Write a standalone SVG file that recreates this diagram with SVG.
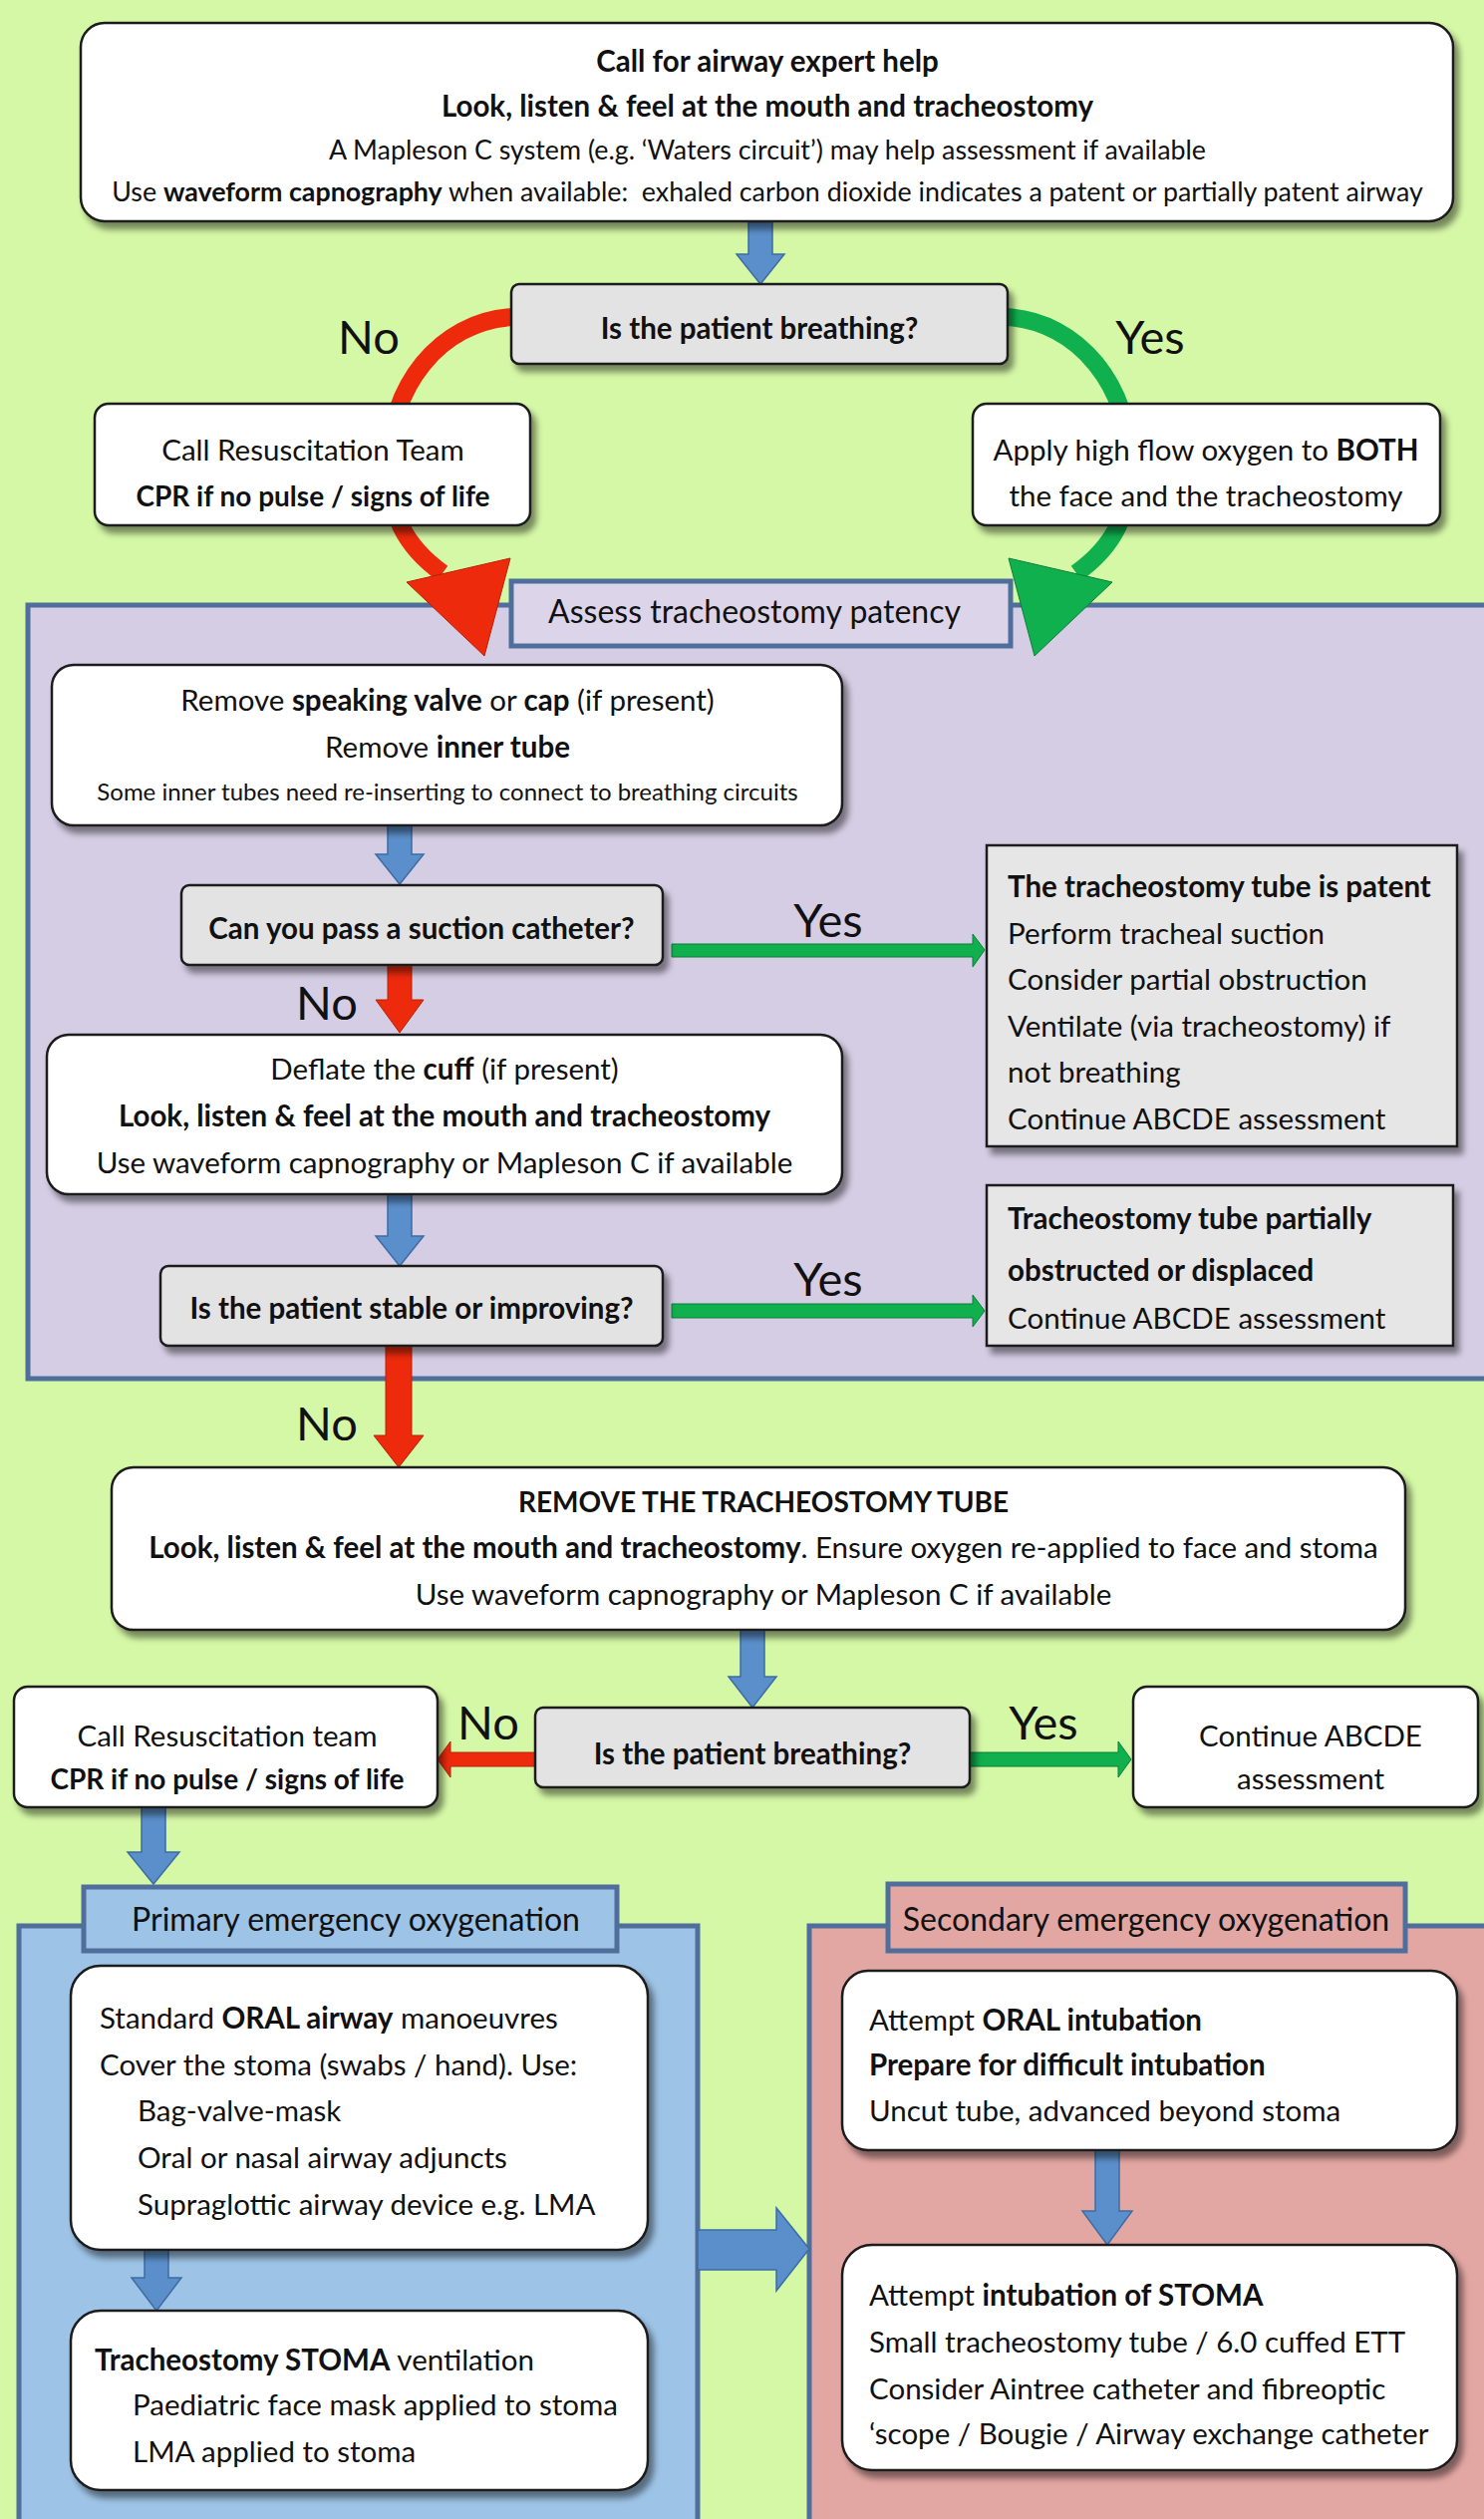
<svg xmlns="http://www.w3.org/2000/svg" width="1489" height="2527" viewBox="0 0 1489 2527">
<defs>
<filter id="sh" x="-5%" y="-10%" width="115%" height="135%">
<feDropShadow dx="5" dy="7" stdDeviation="3" flood-color="#000" flood-opacity="0.45"/>
</filter>
<style>
.t{font-family:Lato,"Liberation Sans",sans-serif;font-size:29.5px;fill:#111}
.c{text-anchor:middle}
.b{font-weight:bold}
.s{font-size:24px}
.m{font-size:26.8px}
.n{font-size:28px}
.lbl{font-size:47px}
.ttl{font-size:32px}
.box{fill:#fff;stroke:#1a1a1a;stroke-width:2.5;filter:url(#sh)}
.dec{fill:#e3e3e3;stroke:#1a1a1a;stroke-width:2.5;filter:url(#sh)}
.gbox{fill:#e6e6e6;stroke:#1a1a1a;stroke-width:2.5;filter:url(#sh)}
.cont{stroke:#4f6e9c;stroke-width:5}
.blue{fill:#5b8fcb;stroke:#3e6ca3;stroke-width:1.5}
.red{fill:#ee2a0c;stroke:#b82008;stroke-width:1}
.green{fill:#10b04e;stroke:#0b7e38;stroke-width:1}
</style>
</defs>
<rect x="0" y="0" width="1489" height="2527" fill="#d5f8a6"/>

<g id="containers">
<rect id="assess-container" class="cont" x="28" y="607" width="1470" height="776" fill="#d5cde4"/>
<rect id="primary-container" class="cont" x="19" y="1932" width="681" height="620" fill="#9dc3e6"/>
<rect id="secondary-container" class="cont" x="812" y="1932" width="690" height="620" fill="#e3a7a3"/>
</g>

<g id="connectors">
<g id="curve-no">
<path d="M 515 318 C 440 322, 390 390, 390 466 C 390 515, 406 548, 444 575" fill="none" stroke="#ee2a0c" stroke-width="18"/>
<polygon class="red" points="408,584 512,560 486,658"/>
</g>
<g id="curve-yes" transform="translate(1524,0) scale(-1,1)">
<path d="M 515 318 C 440 322, 390 390, 390 466 C 390 515, 406 548, 444 575" fill="none" stroke="#10b04e" stroke-width="18"/>
<polygon class="green" points="408,584 512,560 486,658"/>
</g>
<polygon class="blue" points="751,223 775,223 775,255 787,255 763,285 739,255 751,255"/>
<polygon class="blue" points="389,828 413,828 413,857 425,857 401,887 377,857 389,857"/>
<polygon class="green" points="674,947 976,947 976,937 988,953 976,970 976,960 674,960"/>
<polygon class="red" points="389,968 413,968 413,1003 425,1003 401,1036 377,1003 389,1003"/>
<polygon class="blue" points="389,1198 413,1198 413,1240 425,1240 401,1270 377,1240 389,1240"/>
<polygon class="green" points="674,1308 976,1308 976,1299 988,1315 976,1331 976,1322 674,1322"/>
<polygon class="red" points="387,1350 413,1350 413,1440 425,1440 400,1472 375,1440 387,1440"/>
<polygon class="blue" points="743,1635 767,1635 767,1682 779,1682 755,1713 731,1682 743,1682"/>
<polygon class="red" points="537,1758 452,1758 452,1747 439,1765 452,1783 452,1772 537,1772"/>
<polygon class="green" points="973,1758 1122,1758 1122,1747 1135,1765 1122,1783 1122,1772 973,1772"/>
<polygon class="blue" points="142,1813 166,1813 166,1858 180,1858 154,1890 128,1858 142,1858"/>
<polygon class="blue" points="145,2257 169,2257 169,2285 182,2285 157,2318 132,2285 145,2285"/>
<polygon class="blue" points="1099,2157 1123,2157 1123,2218 1136,2218 1111,2252 1086,2218 1099,2218"/>
<polygon class="blue" points="700,2237 779,2237 779,2215 812,2256 779,2298 779,2277 700,2277"/>
</g>

<g id="labels" class="t lbl c">
<text x="370" y="355">No</text>
<text x="1154" y="355">Yes</text>
<text x="831" y="940">Yes</text>
<text x="328" y="1023">No</text>
<text x="831" y="1300">Yes</text>
<text x="328" y="1445">No</text>
<text x="490" y="1745">No</text>
<text x="1047" y="1745">Yes</text>
</g>

<g id="n-top">
<rect class="box" x="81" y="23" width="1377" height="199" rx="24"/>
<text class="t c b" x="770" y="72">Call for airway expert help</text>
<text class="t c b" x="770" y="117">Look, listen &amp; feel at the mouth and tracheostomy</text>
<text class="t c m" x="770" y="160">A Mapleson C system (e.g. ‘Waters circuit’) may help assessment if available</text>
<text class="t c m" x="770" y="202">Use <tspan class="b">waveform capnography</tspan> when available:&#160; exhaled carbon dioxide indicates a patent or partially patent airway</text>
</g>

<g id="n-breathing1">
<rect class="dec" x="513" y="285" width="498" height="80" rx="8"/>
<text class="t c b" x="762" y="340">Is the patient breathing?</text>
</g>

<g id="n-resus1">
<rect class="box" x="95" y="405" width="437" height="122" rx="14"/>
<text class="t c" x="314" y="462">Call Resuscitation Team</text>
<text class="t c b n" x="314" y="508">CPR if no pulse / signs of life</text>
</g>

<g id="n-oxygen">
<rect class="box" x="976" y="405" width="469" height="122" rx="14"/>
<text class="t c" x="1210" y="462">Apply high flow oxygen to <tspan class="b">BOTH</tspan></text>
<text class="t c" x="1210" y="508">the face and the tracheostomy</text>
</g>

<g id="n-assess-title">
<rect x="513" y="583" width="501" height="65" fill="#dcd5ea" stroke="#4f6e9c" stroke-width="5"/>
<text class="t c ttl" x="757" y="625">Assess tracheostomy patency</text>
</g>

<g id="n-remove-valve">
<rect class="box" x="52" y="667" width="793" height="161" rx="22"/>
<text class="t c" x="449" y="713">Remove <tspan class="b">speaking valve</tspan> or <tspan class="b">cap</tspan> (if present)</text>
<text class="t c" x="449" y="760">Remove <tspan class="b">inner tube</tspan></text>
<text class="t c s" x="449" y="803">Some inner tubes need re-inserting to connect to breathing circuits</text>
</g>

<g id="n-suction">
<rect class="dec" x="182" y="888" width="483" height="80" rx="8"/>
<text class="t c b" x="423" y="942">Can you pass a suction catheter?</text>
</g>

<g id="n-patent">
<rect class="gbox" x="990" y="848" width="472" height="302"/>
<text class="t b" x="1011" y="900">The tracheostomy tube is patent</text>
<text class="t" x="1011" y="947">Perform tracheal suction</text>
<text class="t" x="1011" y="993">Consider partial obstruction</text>
<text class="t" x="1011" y="1040">Ventilate (via tracheostomy) if</text>
<text class="t" x="1011" y="1086">not breathing</text>
<text class="t" x="1011" y="1133">Continue ABCDE assessment</text>
</g>

<g id="n-deflate">
<rect class="box" x="47" y="1038" width="798" height="160" rx="22"/>
<text class="t c" x="446" y="1083">Deflate the <tspan class="b">cuff</tspan> (if present)</text>
<text class="t c b" x="446" y="1130">Look, listen &amp; feel at the mouth and tracheostomy</text>
<text class="t c" x="446" y="1177">Use waveform capnography or Mapleson C if available</text>
</g>

<g id="n-stable">
<rect class="dec" x="161" y="1270" width="504" height="80" rx="8"/>
<text class="t c b" x="413" y="1323">Is the patient stable or improving?</text>
</g>

<g id="n-partial">
<rect class="gbox" x="990" y="1189" width="468" height="161"/>
<text class="t b" x="1011" y="1233">Tracheostomy tube partially</text>
<text class="t b" x="1011" y="1285">obstructed or displaced</text>
<text class="t" x="1011" y="1333">Continue ABCDE assessment</text>
</g>

<g id="n-remove-tube">
<rect class="box" x="112" y="1472" width="1298" height="163" rx="22"/>
<text class="t c b n" x="766" y="1517">REMOVE THE TRACHEOSTOMY TUBE</text>
<text class="t c" x="766" y="1563"><tspan class="b">Look, listen &amp; feel at the mouth and tracheostomy</tspan>. Ensure oxygen re-applied to face and stoma</text>
<text class="t c" x="766" y="1610">Use waveform capnography or Mapleson C if available</text>
</g>

<g id="n-breathing2">
<rect class="dec" x="537" y="1713" width="436" height="80" rx="8"/>
<text class="t c b" x="755" y="1770">Is the patient breathing?</text>
</g>

<g id="n-resus2">
<rect class="box" x="14" y="1692" width="425" height="121" rx="14"/>
<text class="t c" x="228" y="1752">Call Resuscitation team</text>
<text class="t c b n" x="228" y="1795">CPR if no pulse / signs of life</text>
</g>

<g id="n-continue">
<rect class="box" x="1137" y="1692" width="346" height="121" rx="14"/>
<text class="t c" x="1315" y="1752">Continue ABCDE</text>
<text class="t c" x="1315" y="1795">assessment</text>
</g>

<g id="n-primary-title">
<rect x="84" y="1893" width="535" height="64" fill="#9dc3e6" stroke="#4f6e9c" stroke-width="5"/>
<text class="t c ttl" x="357" y="1937">Primary emergency oxygenation</text>
</g>

<g id="n-secondary-title">
<rect x="891" y="1890" width="519" height="67" fill="#e3a7a3" stroke="#4f6e9c" stroke-width="5"/>
<text class="t c ttl" x="1150" y="1937">Secondary emergency oxygenation</text>
</g>

<g id="n-oral-airway">
<rect class="box" x="71" y="1972" width="579" height="285" rx="30"/>
<text class="t" x="100" y="2035">Standard <tspan class="b">ORAL airway</tspan> manoeuvres</text>
<text class="t" x="100" y="2082">Cover the stoma (swabs / hand). Use:</text>
<text class="t" x="138" y="2128">Bag-valve-mask</text>
<text class="t" x="138" y="2175">Oral or nasal airway adjuncts</text>
<text class="t" x="138" y="2222">Supraglottic airway device e.g. LMA</text>
</g>

<g id="n-stoma-vent">
<rect class="box" x="71" y="2318" width="579" height="180" rx="30"/>
<text class="t" x="95" y="2378"><tspan class="b">Tracheostomy STOMA</tspan> ventilation</text>
<text class="t" x="133" y="2423">Paediatric face mask applied to stoma</text>
<text class="t" x="133" y="2470">LMA applied to stoma</text>
</g>

<g id="n-oral-intubation">
<rect class="box" x="845" y="1977" width="617" height="180" rx="26"/>
<text class="t" x="872" y="2037">Attempt <tspan class="b">ORAL intubation</tspan></text>
<text class="t b" x="872" y="2082">Prepare for difficult intubation</text>
<text class="t" x="872" y="2128">Uncut tube, advanced beyond stoma</text>
</g>

<g id="n-stoma-intubation">
<rect class="box" x="845" y="2252" width="617" height="226" rx="30"/>
<text class="t" x="872" y="2313">Attempt <tspan class="b">intubation of STOMA</tspan></text>
<text class="t" x="872" y="2360">Small tracheostomy tube / 6.0 cuffed ETT</text>
<text class="t" x="872" y="2407">Consider Aintree catheter and fibreoptic</text>
<text class="t" x="872" y="2452">‘scope / Bougie / Airway exchange catheter</text>
</g>
</svg>
